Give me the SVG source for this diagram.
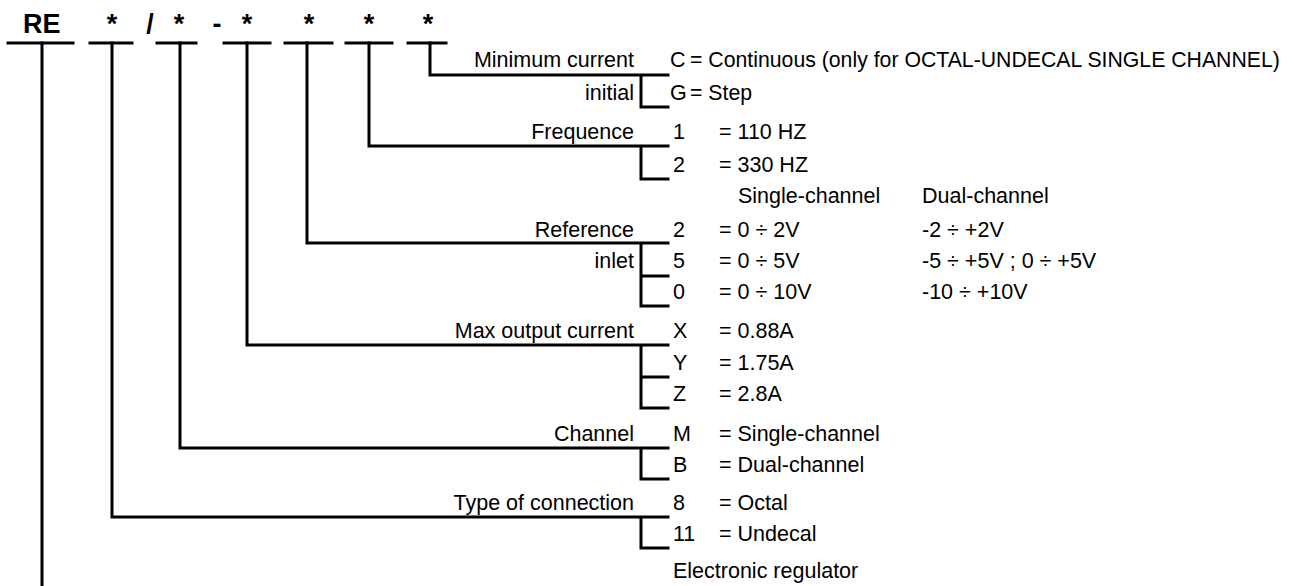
<svg xmlns="http://www.w3.org/2000/svg" width="1294" height="586" viewBox="0 0 1294 586">
<style>
.t{font-family:"Liberation Sans",Arial,sans-serif;font-size:21.5px;fill:#000}
.s{font-size:21.25px}
.h{font-family:"Liberation Sans",Arial,sans-serif;font-size:27px;font-weight:bold;fill:#000}
.e{text-anchor:end}
.m{text-anchor:middle}
.ln{stroke:#000;stroke-width:3;fill:none;stroke-linecap:square}
</style>
<rect width="1294" height="586" fill="#fff"/>
<g id="header">
<text class="h" x="23" y="33">RE</text>
<text class="h m" x="112" y="33">*</text>
<text class="h m" x="150" y="33">/</text>
<text class="h m" x="179" y="33">*</text>
<text class="h m" x="217" y="33">-</text>
<text class="h m" x="247" y="33">*</text>
<text class="h m" x="309" y="33">*</text>
<text class="h m" x="369" y="33">*</text>
<text class="h m" x="428" y="33">*</text>
</g>
<g id="connectors" class="ln">
<path d="M8 43H73M90 43H132M157 43H196M224 43H270M285 43H332M346 43H392M408 43H446"/>
<path d="M42 43V586"/>
<path d="M112 43V517H668M641 517V548H668"/>
<path d="M180 43V448H668M641 448V479H668"/>
<path d="M247 43V345H668M641 345V408H668M641 377H668"/>
<path d="M307 43V243H668M641 243V306H668M641 276H668"/>
<path d="M369 43V146H668M641 146V179H668"/>
<path d="M430 43V75H668M641 75V107H668"/>
</g>
<g id="node-min-current">
<text class="t e" x="634" y="67">Minimum current</text>
<text class="t e" x="634" y="100">initial</text>
<text class="t" x="670" y="67">C</text>
<text class="t s" x="690" y="67">= Continuous (only for OCTAL-UNDECAL SINGLE CHANNEL)</text>
<text class="t" x="670" y="100">G</text>
<text class="t s" x="690" y="100">= Step</text>
</g>
<g id="node-frequence">
<text class="t e" x="634" y="139">Frequence</text>
<text class="t" x="673" y="139">1</text>
<text class="t" x="719" y="139">= 110 HZ</text>
<text class="t" x="673" y="172">2</text>
<text class="t" x="719" y="172">= 330 HZ</text>
</g>
<g id="node-reference">
<text class="t" x="738" y="203">Single-channel</text>
<text class="t" x="922" y="203">Dual-channel</text>
<text class="t e" x="634" y="237">Reference</text>
<text class="t e" x="634" y="268">inlet</text>
<text class="t" x="673" y="237">2</text>
<text class="t" x="719" y="237">= 0 ÷ 2V</text>
<text class="t" x="922" y="237">-2 ÷ +2V</text>
<text class="t" x="673" y="268">5</text>
<text class="t" x="719" y="268">= 0 ÷ 5V</text>
<text class="t" x="922" y="268">-5 ÷ +5V ; 0 ÷ +5V</text>
<text class="t" x="673" y="299">0</text>
<text class="t" x="719" y="299">= 0 ÷ 10V</text>
<text class="t" x="922" y="299">-10 ÷ +10V</text>
</g>
<g id="node-max-output">
<text class="t e" x="634" y="338">Max output current</text>
<text class="t" x="673" y="338">X</text>
<text class="t" x="719" y="338">= 0.88A</text>
<text class="t" x="673" y="370">Y</text>
<text class="t" x="719" y="370">= 1.75A</text>
<text class="t" x="673" y="401">Z</text>
<text class="t" x="719" y="401">= 2.8A</text>
</g>
<g id="node-channel">
<text class="t e" x="634" y="441">Channel</text>
<text class="t" x="673" y="441">M</text>
<text class="t" x="719" y="441">= Single-channel</text>
<text class="t" x="673" y="472">B</text>
<text class="t" x="719" y="472">= Dual-channel</text>
</g>
<g id="node-connection">
<text class="t e" x="634" y="510">Type of connection</text>
<text class="t" x="673" y="510">8</text>
<text class="t" x="719" y="510">= Octal</text>
<text class="t" x="673" y="541">11</text>
<text class="t" x="719" y="541">= Undecal</text>
</g>
<g id="node-regulator">
<text class="t" x="673" y="578">Electronic regulator</text>
</g>
</svg>
